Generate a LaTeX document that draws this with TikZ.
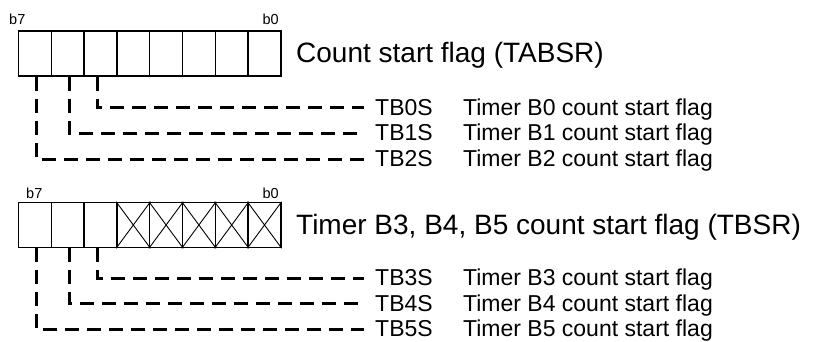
\documentclass[tikz,border=0pt]{standalone}
\usepackage{fontspec}
\setmainfont{Liberation Sans}
\usetikzlibrary{positioning}

\tikzset{
  bitcell/.style={draw,line width=1.5pt,minimum width=32.8pt,minimum height=45pt,inner sep=0pt},
  bitlabel/.style={font=\fontsize{14.5}{17}\selectfont,inner sep=0pt},
  regtitle/.style={font=\fontsize{28}{32}\selectfont,inner sep=0pt},
  flaglabel/.style={font=\fontsize{23}{27}\selectfont,inner sep=0pt},
  flagline/.style={line width=3pt,dash pattern=on 14pt off 8pt},
}

\begin{document}
\begin{tikzpicture}[x=1pt,y=-1pt]
  \useasboundingbox (0,0) rectangle (818,342);
  % count start flag register (TABSR)
  \foreach \b in {7,...,0}
    \node[bitcell] (tabsr\b) at ({34.9+32.8*(7-\b)},53.5) {};
  \node[bitlabel,anchor=base west] (tabsrb7) at (9,25) {b7};
  \node[bitlabel,anchor=base east] (tabsrb0) at (279,25) {b0};
  \node[regtitle,anchor=base west] (tabsrtitle) at (296,63) {Count start flag (TABSR)};
  \foreach \n/\y in {0/107.5,1/133,2/159}{
    \node[flaglabel,anchor=west] (tb\n) at (375,\y) {TB\n S};
    \node[flaglabel,base right=30pt of tb\n] (tbd\n) {Timer B\n\ count start flag};
  }
  \foreach \b/\n/\s in {5/0/-3.5,6/1/1.3,7/2/1.1}
    \draw[flagline] ([xshift=\s pt]tabsr\b.south) |- ([xshift=-11pt]tb\n.west);

  % timer B3, B4, B5 count start flag register (TBSR)
  \foreach \b in {7,...,0}
    \node[bitcell] (tbsr\b) at ({34.9+32.8*(7-\b)},225) {};
  \foreach \b in {4,...,0}
    \draw[line width=0.9pt] (tbsr\b.north west) -- (tbsr\b.south east)
                            (tbsr\b.north east) -- (tbsr\b.south west);
  \node[bitlabel,anchor=base west] (tbsrb7) at (26,198.3) {b7};
  \node[bitlabel,anchor=base east] (tbsrb0) at (279,198.3) {b0};
  \node[regtitle,anchor=base west] (tbsrtitle) at (296,234.5) {Timer B3, B4, B5 count start flag (TBSR)};
  \foreach \n/\y in {3/278,4/303.5,5/329}{
    \node[flaglabel,anchor=west] (tb\n) at (375,\y) {TB\n S};
    \node[flaglabel,base right=30pt of tb\n] (tbd\n) {Timer B\n\ count start flag};
  }
  \foreach \b/\n/\s in {5/3/-3.5,6/4/1.3,7/5/1.1}
    \draw[flagline] ([xshift=\s pt]tbsr\b.south) |- ([xshift=-11pt]tb\n.west);
\end{tikzpicture}
\end{document}
